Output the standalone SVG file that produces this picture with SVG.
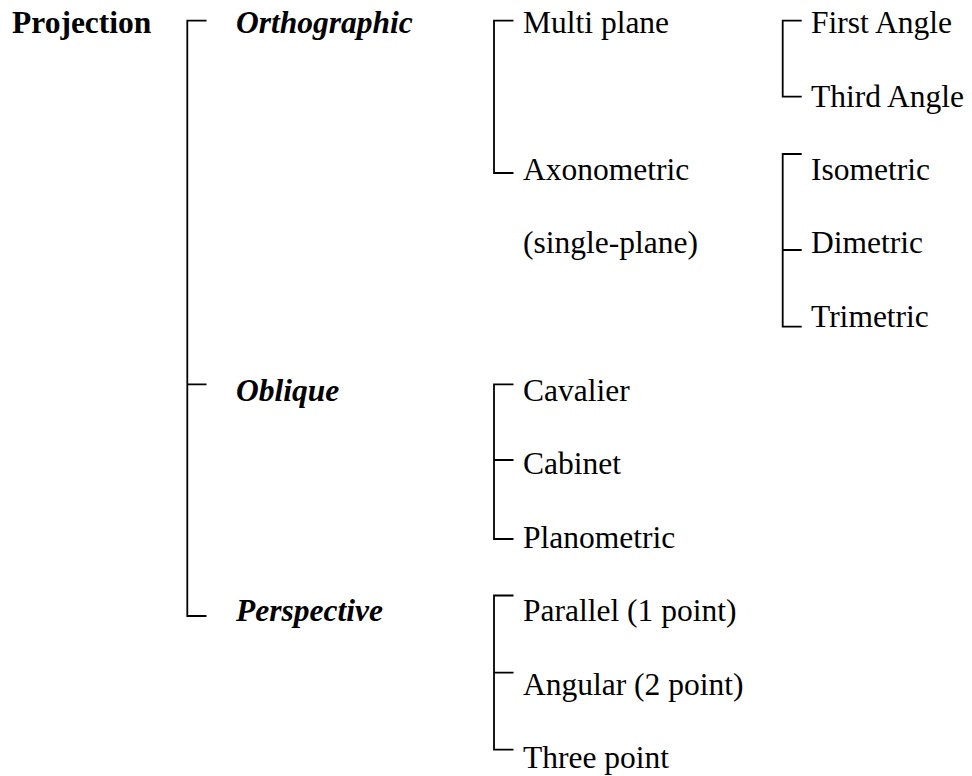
<svg xmlns="http://www.w3.org/2000/svg" width="972" height="776" viewBox="0 0 972 776">
<style>
text{font-family:"Liberation Serif","Times New Roman",serif;font-size:31.5px;fill:#000}
.b{font-weight:bold}
.bi{font-weight:bold;font-style:italic}
.c path{fill:none;stroke:#000;stroke-width:1.8}
</style>
<rect width="972" height="776" fill="#fff"/>
<g class="c" id="connectors">
<path d="M206.5,20.7H187.3V616H206.5M187.3,384.3H206.5"/>
<path d="M513.5,20.7H494V173H513.5"/>
<path d="M801.7,20.7H782.7V96.7H801.7"/>
<path d="M801.7,154H782.7V326.7H801.7M782.7,250H801.7"/>
<path d="M513.5,384.3H494V539H513.5M494,460H513.5"/>
<path d="M513.5,595.5H494V749.6H513.5M494,672.7H513.5"/>
</g>
<g id="n-projection"><text class="b" x="12" y="33">Projection</text></g>
<g id="n-orthographic"><text class="bi" x="236" y="33">Orthographic</text></g>
<g id="n-multiplane"><text x="523" y="33">Multi plane</text></g>
<g id="n-first"><text x="811" y="33">First Angle</text></g>
<g id="n-third"><text x="811" y="106.5">Third Angle</text></g>
<g id="n-axonometric"><text x="523" y="180">Axonometric</text><text x="523" y="253">(single-plane)</text></g>
<g id="n-isometric"><text x="811" y="180">Isometric</text></g>
<g id="n-dimetric"><text x="811" y="253">Dimetric</text></g>
<g id="n-trimetric"><text x="811" y="327">Trimetric</text></g>
<g id="n-oblique"><text class="bi" x="236" y="400.5">Oblique</text></g>
<g id="n-cavalier"><text x="523" y="400.5">Cavalier</text></g>
<g id="n-cabinet"><text x="523" y="474">Cabinet</text></g>
<g id="n-planometric"><text x="523" y="547.5">Planometric</text></g>
<g id="n-perspective"><text class="bi" x="236" y="621">Perspective</text></g>
<g id="n-parallel"><text x="523" y="621">Parallel (1 point)</text></g>
<g id="n-angular"><text x="523" y="694.5">Angular (2 point)</text></g>
<g id="n-three"><text x="523" y="768">Three point</text></g>
</svg>
